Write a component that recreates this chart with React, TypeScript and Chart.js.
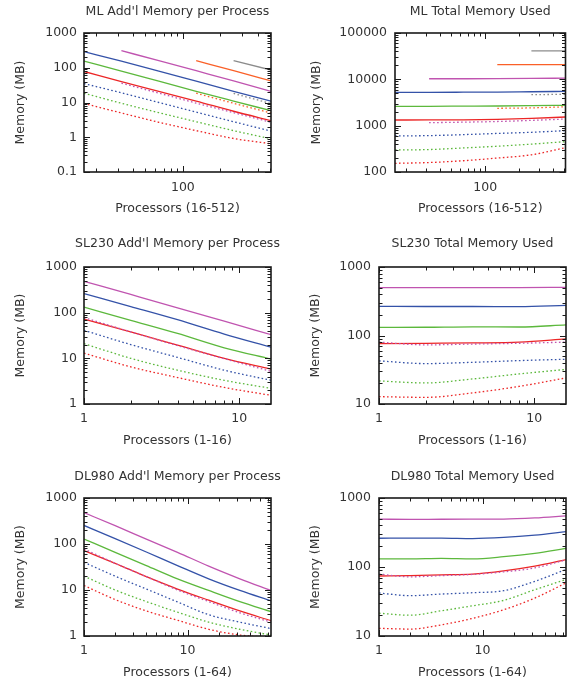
import React, { useEffect, useRef } from 'react';
import { Chart, registerables } from 'chart.js';

Chart.register(...registerables);

// ---------------- DATA ----------------
const ML_PROCS = [16, 32, 64, 128, 256, 512];
const SL_PROCS = [1, 2, 4, 8, 16];
const DL_PROCS = [1, 2, 4, 8, 16, 32, 64];

// ML add'l memory per process (MB)
const ML_ADDL_RED = [78, 40, 21, 11, 5.6, 3.0];
const ML_ADDL_GREEN = [155, 80, 41, 21, 11, 5.8];
const ML_ADDL_BLUE = [290, 155, 80, 41, 21, 11];
const ML_ADDL_PURPLE = [null, 310, 160, 82, 42, 21];
const ML_ADDL_ORANGE = [null, null, null, 160, 82, 42];
const ML_ADDL_GRAY = [null, null, null, null, 160, 86];
const ML_ADDL_RED_DOT = [9.4, 5.0, 2.7, 1.55, 0.92, 0.65];
const ML_ADDL_GREEN_DOT = [18.5, 9.5, 5.1, 2.8, 1.55, 0.9];
const ML_ADDL_BLUE_DOT = [35, 19, 10, 5.3, 2.8, 1.5];
const ML_ADDL_PURPLE_DOT = [null, 36, 18.6, 9.6, 5.1, 2.7];
const ML_ADDL_ORANGE_DOT = [null, null, null, 18.5, 9.5, 5.0];
const ML_ADDL_GRAY_DOT = [null, null, null, null, 18.2, 9.3];

// ML total memory used (MB)
const ML_TOT_RED = [1325, 1330, 1340, 1370, 1430, 1540];
const ML_TOT_GREEN = [2620, 2620, 2640, 2660, 2700, 2750];
const ML_TOT_BLUE = [5250, 5250, 5270, 5300, 5400, 5500];
const ML_TOT_PURPLE = [null, 10300, 10300, 10350, 10450, 10600];
const ML_TOT_ORANGE = [null, null, null, 20700, 20700, 20800];
const ML_TOT_GRAY = [null, null, null, null, 41000, 41200];
const ML_TOT_RED_DOT = [154, 160, 175, 200, 235, 335];
const ML_TOT_GREEN_DOT = [298, 305, 330, 360, 400, 452];
const ML_TOT_BLUE_DOT = [598, 610, 640, 680, 720, 780];
const ML_TOT_PURPLE_DOT = [null, 1160, 1190, 1230, 1300, 1390];
const ML_TOT_ORANGE_DOT = [null, null, null, 2370, 2420, 2550];
const ML_TOT_GRAY_DOT = [null, null, null, null, 4660, 4750];

// SL230 add'l memory per process
const SL_ADDL_PURPLE = [487, 250, 128, 65, 33];
const SL_ADDL_BLUE = [262, 136, 70, 34, 17.5];
const SL_ADDL_GREEN = [132, 68, 35, 17, 9.6];
const SL_ADDL_RED = [72, 38, 19.5, 10, 5.8];
const SL_ADDL_PURPLE_DOT = [78, 38, 19, 9.8, 5.2];
const SL_ADDL_BLUE_DOT = [41, 20, 10.5, 5.5, 3.3];
const SL_ADDL_GREEN_DOT = [21, 10, 5.5, 3.3, 2.2];
const SL_ADDL_RED_DOT = [13, 6.5, 3.8, 2.3, 1.55];

// SL230 total memory used
const SL_TOT_PURPLE = [500, 500, 500, 500, 505];
const SL_TOT_BLUE = [266, 265, 265, 264, 276];
const SL_TOT_GREEN = [131, 132, 134, 133, 143];
const SL_TOT_RED = [76, 77, 78, 80, 89];
const SL_TOT_PURPLE_DOT = [80, 73, 75, 77, 80];
const SL_TOT_BLUE_DOT = [42.6, 38.9, 40.6, 43, 45];
const SL_TOT_GREEN_DOT = [21.7, 20.3, 23.2, 27.5, 32];
const SL_TOT_RED_DOT = [12.8, 12.5, 14.5, 18.1, 24];

// DL980 add'l memory per process
const DL_ADDL_PURPLE = [480, 250, 128, 66, 33, 17.5, 9.7];
const DL_ADDL_BLUE = [253, 131, 67, 34, 17.5, 9.8, 5.8];
const DL_ADDL_GREEN = [128, 66, 34, 17.5, 9.8, 5.6, 3.4];
const DL_ADDL_RED = [72, 38, 19.5, 10.5, 6, 3.5, 2.15];
const DL_ADDL_PURPLE_DOT = [78, 38, 19.5, 10, 5.6, 3.2, 2.0];
const DL_ADDL_BLUE_DOT = [40, 20, 10.5, 5.5, 2.9, 2.0, 1.45];
const DL_ADDL_GREEN_DOT = [20, 10, 5.6, 3.3, 2.0, 1.4, 1.05];
const DL_ADDL_RED_DOT = [12.5, 6.2, 3.5, 2.2, 1.4, 1.05, 0.93];

// DL980 total memory used
const DL_TOT_PURPLE = [493, 490, 492, 493, 495, 515, 552];
const DL_TOT_BLUE = [261, 262, 262, 258, 268, 290, 326];
const DL_TOT_GREEN = [131, 131, 133, 131, 141, 158, 186];
const DL_TOT_RED = [74, 75, 77, 79, 88, 103, 128];
const DL_TOT_PURPLE_DOT = [79, 72, 75, 78, 85, 97, 127];
const DL_TOT_BLUE_DOT = [42, 38.4, 40.5, 42.4, 45.3, 62, 92];
const DL_TOT_GREEN_DOT = [21.4, 20, 23.2, 27.4, 32.8, 47, 66];
const DL_TOT_RED_DOT = [12.9, 12.6, 14.5, 18, 24, 35.5, 58.7];

// ---------------- STYLE ----------------
const FONT = 'DejaVu Sans';
const TEXT = '#333333';
const FS = 12.5;
const LH = FS * 1.2;

const RED = 'rgb(236,38,38)';
const GREEN = 'rgb(92,184,60)';
const BLUE = 'rgb(52,82,168)';
const PURPLE = 'rgb(192,84,176)';
const ORANGE = 'rgb(250,96,40)';
const GRAY = 'rgb(140,140,140)';

type Series = { label: string; color: string; dotted: boolean; values: (number | null)[] };
type Rect = { left: number; top: number; width: number; height: number };
type Plot = { left: number; top: number; right: number; bottom: number };
type Panel = {
  title: string;
  xTitle: string;
  xs: number[];
  series: Series[];
  xMin: number; xMax: number; yMin: number; yMax: number;
  canvas: Rect; plot: Plot;
  titleY: number; xTitleY: number; xTickY: number; yTitleX: number; yTickGap: number;
};

const s = (label: string, color: string, dotted: boolean, values: (number | null)[]): Series => ({ label, color, dotted, values });

const PANELS: Panel[] = [
  {
    title: "ML Add'l Memory per Process", xTitle: 'Processors (16-512)', xs: ML_PROCS,
    xMin: 16, xMax: 512, yMin: 0.1, yMax: 1000,
    series: [
      s('red dotted', RED, true, ML_ADDL_RED_DOT), s('green dotted', GREEN, true, ML_ADDL_GREEN_DOT),
      s('blue dotted', BLUE, true, ML_ADDL_BLUE_DOT), s('purple dotted', PURPLE, true, ML_ADDL_PURPLE_DOT),
      s('orange dotted', ORANGE, true, ML_ADDL_ORANGE_DOT), s('gray dotted', GRAY, true, ML_ADDL_GRAY_DOT),
      s('red', RED, false, ML_ADDL_RED), s('green', GREEN, false, ML_ADDL_GREEN),
      s('blue', BLUE, false, ML_ADDL_BLUE), s('purple', PURPLE, false, ML_ADDL_PURPLE),
      s('orange', ORANGE, false, ML_ADDL_ORANGE), s('gray', GRAY, false, ML_ADDL_GRAY),
    ],
    canvas: { left: 0, top: 0, width: 287, height: 225 }, plot: { left: 84, top: 33, right: 271, bottom: 172 },
    titleY: 12, xTitleY: 209, xTickY: 188, yTitleX: 21, yTickGap: 7,
  },
  {
    title: 'ML Total Memory Used', xTitle: 'Processors (16-512)', xs: ML_PROCS,
    xMin: 16, xMax: 512, yMin: 100, yMax: 100000,
    series: [
      s('red dotted', RED, true, ML_TOT_RED_DOT), s('green dotted', GREEN, true, ML_TOT_GREEN_DOT),
      s('blue dotted', BLUE, true, ML_TOT_BLUE_DOT), s('purple dotted', PURPLE, true, ML_TOT_PURPLE_DOT),
      s('orange dotted', ORANGE, true, ML_TOT_ORANGE_DOT), s('gray dotted', GRAY, true, ML_TOT_GRAY_DOT),
      s('red', RED, false, ML_TOT_RED), s('green', GREEN, false, ML_TOT_GREEN),
      s('blue', BLUE, false, ML_TOT_BLUE), s('purple', PURPLE, false, ML_TOT_PURPLE),
      s('orange', ORANGE, false, ML_TOT_ORANGE), s('gray', GRAY, false, ML_TOT_GRAY),
    ],
    canvas: { left: 287, top: 0, width: 287, height: 225 }, plot: { left: 395, top: 33, right: 566, bottom: 172 },
    titleY: 12, xTitleY: 209, xTickY: 188, yTitleX: 317, yTickGap: 8,
  },
  {
    title: "SL230 Add'l Memory per Process", xTitle: 'Processors (1-16)', xs: SL_PROCS,
    xMin: 1, xMax: 16, yMin: 1, yMax: 1000,
    series: [
      s('red dotted', RED, true, SL_ADDL_RED_DOT), s('green dotted', GREEN, true, SL_ADDL_GREEN_DOT),
      s('blue dotted', BLUE, true, SL_ADDL_BLUE_DOT), s('purple dotted', PURPLE, true, SL_ADDL_PURPLE_DOT),
      s('red', RED, false, SL_ADDL_RED), s('green', GREEN, false, SL_ADDL_GREEN),
      s('blue', BLUE, false, SL_ADDL_BLUE), s('purple', PURPLE, false, SL_ADDL_PURPLE),
    ],
    canvas: { left: 0, top: 225, width: 287, height: 230 }, plot: { left: 84, top: 267, right: 271, bottom: 404 },
    titleY: 244, xTitleY: 441, xTickY: 419, yTitleX: 21, yTickGap: 7,
  },
  {
    title: 'SL230 Total Memory Used', xTitle: 'Processors (1-16)', xs: SL_PROCS,
    xMin: 1, xMax: 16, yMin: 10, yMax: 1000,
    series: [
      s('red dotted', RED, true, SL_TOT_RED_DOT), s('green dotted', GREEN, true, SL_TOT_GREEN_DOT),
      s('blue dotted', BLUE, true, SL_TOT_BLUE_DOT), s('purple dotted', PURPLE, true, SL_TOT_PURPLE_DOT),
      s('red', RED, false, SL_TOT_RED), s('green', GREEN, false, SL_TOT_GREEN),
      s('blue', BLUE, false, SL_TOT_BLUE), s('purple', PURPLE, false, SL_TOT_PURPLE),
    ],
    canvas: { left: 287, top: 225, width: 287, height: 230 }, plot: { left: 379, top: 267, right: 566, bottom: 404 },
    titleY: 244, xTitleY: 441, xTickY: 419, yTitleX: 316, yTickGap: 8,
  },
  {
    title: "DL980 Add'l Memory per Process", xTitle: 'Processors (1-64)', xs: DL_PROCS,
    xMin: 1, xMax: 64, yMin: 1, yMax: 1000,
    series: [
      s('red dotted', RED, true, DL_ADDL_RED_DOT), s('green dotted', GREEN, true, DL_ADDL_GREEN_DOT),
      s('blue dotted', BLUE, true, DL_ADDL_BLUE_DOT), s('purple dotted', PURPLE, true, DL_ADDL_PURPLE_DOT),
      s('red', RED, false, DL_ADDL_RED), s('green', GREEN, false, DL_ADDL_GREEN),
      s('blue', BLUE, false, DL_ADDL_BLUE), s('purple', PURPLE, false, DL_ADDL_PURPLE),
    ],
    canvas: { left: 0, top: 455, width: 287, height: 230 }, plot: { left: 84, top: 498, right: 271, bottom: 636 },
    titleY: 477, xTitleY: 673, xTickY: 651, yTitleX: 21, yTickGap: 7,
  },
  {
    title: 'DL980 Total Memory Used', xTitle: 'Processors (1-64)', xs: DL_PROCS,
    xMin: 1, xMax: 64, yMin: 10, yMax: 1000,
    series: [
      s('red dotted', RED, true, DL_TOT_RED_DOT), s('green dotted', GREEN, true, DL_TOT_GREEN_DOT),
      s('blue dotted', BLUE, true, DL_TOT_BLUE_DOT), s('purple dotted', PURPLE, true, DL_TOT_PURPLE_DOT),
      s('red', RED, false, DL_TOT_RED), s('green', GREEN, false, DL_TOT_GREEN),
      s('blue', BLUE, false, DL_TOT_BLUE), s('purple', PURPLE, false, DL_TOT_PURPLE),
    ],
    canvas: { left: 287, top: 455, width: 287, height: 230 }, plot: { left: 379, top: 498, right: 566, bottom: 636 },
    titleY: 477, xTitleY: 673, xTickY: 651, yTitleX: 316, yTickGap: 8,
  },
];

// ---------------- HELPERS ----------------
const isDecade = (v: number) => {
  const l = Math.log10(v);
  return Math.abs(l - Math.round(l)) < 1e-9;
};

function logMarks(min: number, max: number) {
  const out: { v: number; major: boolean }[] = [];
  for (let e = Math.floor(Math.log10(min)) - 1; e <= Math.ceil(Math.log10(max)); e++) {
    for (let m = 1; m <= 9; m++) {
      const v = m * Math.pow(10, e);
      if (v >= min * (1 - 1e-9) && v <= max * (1 + 1e-9)) out.push({ v, major: m === 1 });
    }
  }
  return out;
}

const frameTicks = {
  id: 'frameTicks',
  afterDatasetsDraw(chart: any, _args: any, opts: any) {
    const { ctx, chartArea: a, scales } = chart;
    const xs = scales.x;
    const ys = scales.y;
    ctx.save();
    ctx.strokeStyle = '#1a1a1a';
    ctx.lineWidth = 1;
    ctx.beginPath();
    for (const t of logMarks(xs.min, xs.max)) {
      const px = Math.round(xs.getPixelForValue(t.v)) + 0.5;
      const len = t.major ? 6 : 3.5;
      ctx.moveTo(px, a.bottom);
      ctx.lineTo(px, a.bottom - len);
      ctx.moveTo(px, a.top);
      ctx.lineTo(px, a.top + len);
    }
    for (const t of logMarks(ys.min, ys.max)) {
      const py = Math.round(ys.getPixelForValue(t.v)) + 0.5;
      const len = t.major ? 6 : 3.5;
      ctx.moveTo(a.left, py);
      ctx.lineTo(a.left + len, py);
      ctx.moveTo(a.right, py);
      ctx.lineTo(a.right - len, py);
    }
    ctx.stroke();
    ctx.lineWidth = 1.6;
    ctx.strokeStyle = '#1a1a1a';
    ctx.strokeRect(a.left, a.top, a.right - a.left, a.bottom - a.top);
    // panel title, centred over the plot area
    if (opts && opts.text) {
      ctx.fillStyle = TEXT;
      ctx.font = `normal ${FS}px "${FONT}"`;
      ctx.textAlign = 'center';
      ctx.textBaseline = 'middle';
      ctx.fillText(opts.text, (a.left + a.right) / 2, opts.y);
    }
    ctx.restore();
  },
};

function buildConfig(p: Panel): any {
  const c = p.canvas;
  const font = { family: FONT, size: FS, lineHeight: 1.2 };
  const xAxisH = c.top + c.height - p.plot.bottom;
  const yAxisW = p.plot.left - c.left;
  const tickCb = (v: any) => (isDecade(Number(v)) ? String(Number(v)) : '');
  return {
    type: 'line',
    data: {
      datasets: p.series.map((sr) => ({
        label: sr.label,
        data: p.xs
          .map((x, i) => ({ x, y: sr.values[i] }))
          .filter((pt) => pt.y !== null && pt.y !== undefined),
        borderColor: sr.color,
        backgroundColor: sr.color,
        borderWidth: 1.3,
        borderDash: sr.dotted ? [1.6, 2.4] : [],
        pointRadius: 0,
        pointHoverRadius: 0,
        fill: false,
        cubicInterpolationMode: 'monotone',
      })),
    },
    options: {
      responsive: false,
      animation: false,
      devicePixelRatio: 1,
      layout: {
        padding: { left: 0, top: p.plot.top - c.top, bottom: 0, right: c.left + c.width - p.plot.right },
      },
      plugins: {
        legend: { display: false },
        tooltip: { enabled: false },
        title: { display: false },
        frameTicks: { text: p.title, y: p.titleY - c.top },
      },
      scales: {
        x: {
          type: 'logarithmic',
          position: 'bottom',
          min: p.xMin,
          max: p.xMax,
          grid: { display: false, drawTicks: false },
          border: { display: false },
          ticks: {
            autoSkip: false,
            maxRotation: 0,
            color: TEXT,
            font,
            padding: p.xTickY - p.plot.bottom - LH / 2,
            callback: tickCb,
          },
          title: {
            display: true,
            text: p.xTitle,
            color: TEXT,
            font,
            padding: { top: 0, bottom: c.top + c.height - p.xTitleY - LH / 2 },
          },
          afterFit: (sc: any) => {
            sc.height = xAxisH;
          },
        },
        y: {
          type: 'logarithmic',
          position: 'left',
          min: p.yMin,
          max: p.yMax,
          grid: { display: false, drawTicks: false },
          border: { display: false },
          ticks: {
            autoSkip: false,
            color: TEXT,
            font,
            padding: p.yTickGap,
            callback: tickCb,
          },
          title: {
            display: true,
            text: 'Memory (MB)',
            color: TEXT,
            font,
            padding: { top: p.yTitleX - c.left - LH / 2, bottom: 0 },
          },
          afterFit: (sc: any) => {
            sc.width = yAxisW;
          },
        },
      },
    },
    plugins: [frameTicks],
  };
}

function PanelChart({ panel }: { panel: Panel }) {
  const ref = useRef<HTMLCanvasElement | null>(null);
  useEffect(() => {
    if (!ref.current) return;
    const chart = new Chart(ref.current, buildConfig(panel));
    return () => chart.destroy();
  }, [panel]);
  const c = panel.canvas;
  return (
    <canvas
      ref={ref}
      width={c.width}
      height={c.height}
      style={{ position: 'absolute', left: c.left, top: c.top, width: c.width, height: c.height }}
    />
  );
}

export default function App() {
  return (
    <div style={{ position: 'absolute', left: 0, top: 0, width: 574, height: 685, background: '#ffffff' }}>
      {PANELS.map((p, i) => (
        <PanelChart key={i} panel={p} />
      ))}
    </div>
  );
}
